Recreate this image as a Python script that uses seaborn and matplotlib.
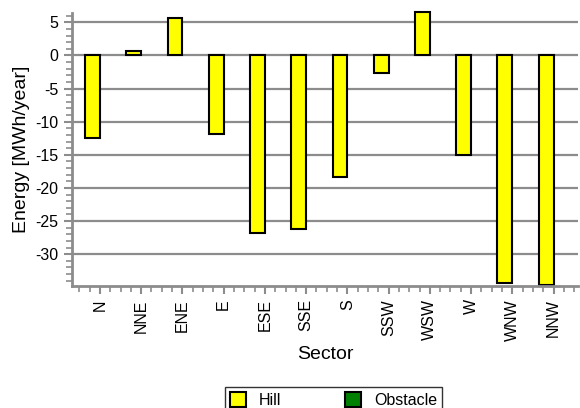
import numpy as np
import pandas as pd
import seaborn as sns
import matplotlib
from matplotlib import pyplot as plt
from matplotlib.patches import Patch
from matplotlib.ticker import MultipleLocator

sectors = ["N", "NNE", "ENE", "E", "ESE", "SSE", "S", "SSW", "WSW", "W", "WNW", "NNW"]
hill = [-12.5, 0.6, 5.7, -11.9, -26.8, -26.2, -18.3, -2.6, 6.6, -15.1, -34.4, -34.7]
obstacle = [0.0] * len(sectors)
series = ["Hill", "Obstacle"]
colors = {"Hill": "#ffff00", "Obstacle": "#008000"}

df = pd.DataFrame({
    "Sector": sectors * 2,
    "Energy": hill + obstacle,
    "Type": [series[0]] * len(sectors) + [series[1]] * len(sectors),
})

sns.set_style("white")
plt.rcParams["font.family"] = ["Liberation Sans", "DejaVu Sans"]
plt.rcParams["axes.unicode_minus"] = False

fig = plt.figure(figsize=(5.8, 4.08), dpi=100)
ax = fig.add_axes([0.124, 0.299, 0.873, 0.669])

sns.barplot(data=df, x="Sector", y="Energy", hue="Type", palette=colors, saturation=1,
            width=0.72, edgecolor="black", linewidth=1.5, legend=False, ax=ax)

for bar in ax.containers[1]:
    if bar.get_height() == 0:
        bar.set_linewidth(0)
for bar in ax.containers[0]:
    bar.set_clip_on(False)

ax.set_ylim(-34.8, 6.4)
ax.set_xlim(-0.68, 11.6)
ax.yaxis.set_major_locator(MultipleLocator(5))
ax.yaxis.set_minor_locator(MultipleLocator(1))
ax.xaxis.set_minor_locator(MultipleLocator(0.25))
ax.yaxis.grid(True, color="#8c8c8c", linewidth=1.6)
ax.set_axisbelow(True)

for side in ["top", "right"]:
    ax.spines[side].set_visible(False)
for side in ["left", "bottom"]:
    ax.spines[side].set_color("#8c8c8c")
    ax.spines[side].set_linewidth(2)

ax.tick_params(axis="both", which="major", direction="out", length=6, width=1.5,
               color="#8c8c8c", labelsize=11.5, labelcolor="black", bottom=True, left=True)
ax.tick_params(axis="both", which="minor", direction="out", length=4, width=1.2,
               color="#8c8c8c", bottom=True, left=True)
ax.tick_params(axis="x", labelrotation=90)

ax.set_xlabel("Sector", fontsize=14, color="black")
ax.set_ylabel("Energy [MWh/year]", fontsize=14, color="black")

handles = [Patch(facecolor=colors[s], edgecolor="black", linewidth=1.5) for s in series]
leg = fig.legend(handles, series, loc="upper center", bbox_to_anchor=(0.575, 0.07),
                 ncol=2, frameon=True, fancybox=False, fontsize=11.5,
                 handlelength=1.0, handleheight=1.0, columnspacing=4.0,
                 borderpad=0.3)
leg.get_frame().set_edgecolor("black")
leg.get_frame().set_linewidth(1.0)
for t in leg.get_texts():
    t.set_color("black")

fig.savefig("out.png", dpi=100)
